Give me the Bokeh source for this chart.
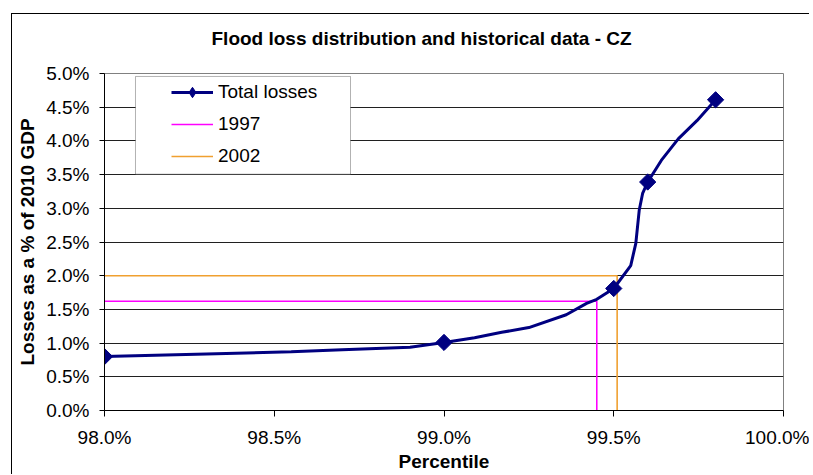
import math
from bokeh.plotting import figure
from bokeh.layouts import column
from bokeh.models import Range1d, FixedTicker, PrintfTickFormatter, BoxAnnotation
from bokeh.embed import file_html
from bokeh.resources import INLINE

# ---- data ----
curve_percentile = [98.0, 98.3, 98.55, 98.7, 98.9, 99.0, 99.09, 99.17, 99.25, 99.36,
                    99.42, 99.45, 99.5, 99.55, 99.565, 99.575, 99.585, 99.6, 99.64,
                    99.69, 99.745, 99.8]
curve_loss = [0.80, 0.84, 0.87, 0.90, 0.94, 1.01, 1.08, 1.16, 1.23, 1.42,
              1.59, 1.65, 1.81, 2.15, 2.48, 2.97, 3.22, 3.39, 3.71,
              4.03, 4.30, 4.61]
marker_percentile = [98.0, 99.0, 99.5, 99.6, 99.8]
marker_loss = [0.80, 1.01, 1.81, 3.39, 4.61]

event_years = ["1997", "2002"]
event_percentile = [99.45, 99.51]
event_loss = [1.62, 2.00]
event_colors = ["#FF00FF", "#F0A030"]

x_ticks = [98.0, 98.5, 99.0, 99.5, 100.0]
y_ticks = [0.0, 0.5, 1.0, 1.5, 2.0, 2.5, 3.0, 3.5, 4.0, 4.5, 5.0]

FONT = "Liberation Sans"
NAVY = "#000080"

p = figure(width=809, height=474, output_backend="svg", toolbar_location=None,
           x_range=Range1d(98.0, 100.0), y_range=Range1d(0.0, 5.0),
           min_border_left=104, min_border_right=26, min_border_top=73,
           min_border_bottom=63)
p.background_fill_color = "white"
p.border_fill_color = None
p.border_fill_alpha = 0
p.outline_line_color = "#808080"
p.outline_line_width = 1

# title
p.title.text = "Flood loss distribution and historical data - CZ"
p.title.text_font = FONT
p.title.text_font_size = "19px"
p.title.text_font_style = "bold"
p.title.text_color = "black"
p.title.align = "left"
p.title.offset = 107
p.title.standoff = 50

# grid
p.xgrid.grid_line_color = None
p.ygrid.ticker = FixedTicker(ticks=y_ticks)
p.ygrid.grid_line_color = "#202020"
p.ygrid.grid_line_width = 1

# axes
for ax in (p.xaxis[0], p.yaxis[0]):
    ax.axis_line_color = "black"
    ax.major_tick_line_color = "black"
    ax.minor_tick_line_color = None
    ax.major_tick_in = 0
    ax.major_label_text_font = FONT
    ax.major_label_text_font_size = "19px"
    ax.major_label_text_color = "black"
    ax.axis_label_text_font = FONT
    ax.axis_label_text_font_size = "19px"
    ax.axis_label_text_font_style = "bold"
    ax.axis_label_text_color = "black"

p.xaxis.ticker = FixedTicker(ticks=x_ticks)
p.xaxis.formatter = PrintfTickFormatter(format="%.1f%%")
p.xaxis.major_tick_out = 6
p.xaxis.major_label_standoff = 10
p.xaxis.axis_label = "Percentile"
p.xaxis.axis_label_standoff = 0

p.yaxis.ticker = FixedTicker(ticks=y_ticks)
p.yaxis.formatter = PrintfTickFormatter(format="%.1f%%")
p.yaxis.major_tick_out = 5
p.yaxis.major_label_standoff = 10
p.yaxis.axis_label = "Losses as a % of 2010 GDP"
p.yaxis.axis_label_standoff = 5

# legend box (white background with black border)
legend_box = BoxAnnotation(left=98.0913, right=98.7246, top=4.956, bottom=3.506,
                           fill_color="white", fill_alpha=1.0,
                           line_color="black", line_width=1, level="underlay")
p.add_layout(legend_box)

# historical event lines
for yr, pc, ls, col in zip(event_years, event_percentile, event_loss, event_colors):
    p.line(x=[x_ticks[0], pc, pc], y=[ls, ls, y_ticks[0]], line_color=col,
           line_width=1.6, legend_label=yr)

# total losses curve
p.line(x=curve_percentile, y=curve_loss, line_color=NAVY, line_width=3,
       legend_label="Total losses")
# diamond markers (also used as the legend glyph), covered by larger rotated squares
p.scatter(x=marker_percentile, y=marker_loss, marker="diamond", size=14,
          fill_color=NAVY, line_color=NAVY, legend_label="Total losses")
p.scatter(x=marker_percentile, y=marker_loss, marker="square", angle=math.pi / 4,
          size=11.5, fill_color=NAVY, line_color=NAVY)

leg = p.legend[0]
leg.items = [leg.items[2], leg.items[0], leg.items[1]]
leg.location = (67, 241)
leg.margin = 0
leg.padding = 0
leg.spacing = 6
leg.glyph_width = 42
leg.glyph_height = 26
leg.label_height = 26
leg.label_standoff = 5
leg.label_text_font = FONT
leg.label_text_font_size = "19px"
leg.label_text_color = "black"
leg.border_line_alpha = 0
leg.background_fill_alpha = 0

# outer chart-area border (left and top edges) drawn behind the transparent canvas
layout = column(p)
layout.styles = {
    "background-color": "white",
    "background-image": "linear-gradient(#000, #000), linear-gradient(#000, #000)",
    "background-position": "11px 13px, 11px 13px",
    "background-size": "1px 2000px, 2000px 1px",
    "background-repeat": "no-repeat, no-repeat",
}

open("out.html", "w").write(file_html(layout, INLINE))
